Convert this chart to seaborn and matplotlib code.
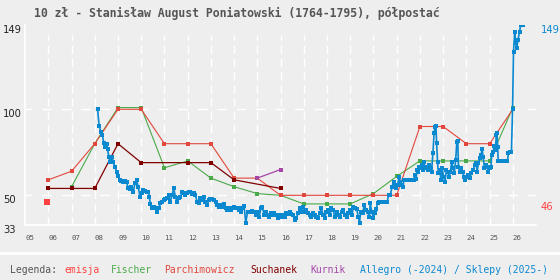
import matplotlib
matplotlib.use("Agg")
import matplotlib.pyplot as plt
import seaborn as sns
from matplotlib.transforms import blended_transform_factory

# dane
title = "10 zł - Stanisław August Poniatowski (1764-1795), półpostać"
year_ticks = list(range(2005, 2027))
year_labels = ["%02d" % (y % 100) for y in year_ticks]

emisja_x = [2005.93]
emisja_y = [46]

fischer_x = list(range(2007, 2027))
fischer_y = [55, 80, 101, 101, 66, 70, 60, 55, 51, 50, 45, 45, 45, 51, 61, 70, 70, 70, 70, 101]

parch_x = list(range(2006, 2027))
parch_y = [59, 64, 80, 100, 100, 80, 80, 80, 60, 60, 50, 50, 50, 50, 50, 50, 90, 90, 80, 80, 100]

such_x = [2006, 2007, 2008, 2009, 2010, 2012, 2013, 2014, 2016]
such_y = [54, 54, 54, 80, 69, 69, 69, 59, 54]

kurnik_x = [2015, 2016]
kurnik_y = [60, 65]

allegro_x = [
    2008.12, 2008.19, 2008.26, 2008.33, 2008.39, 2008.44, 2008.51, 2008.55, 2008.61, 2008.65,
    2008.69, 2008.75, 2008.79, 2008.87, 2008.94, 2009.01, 2009.08, 2009.15, 2009.23, 2009.30,
    2009.37, 2009.44, 2009.51, 2009.58, 2009.66, 2009.73, 2009.80, 2009.87, 2009.95, 2010.02,
    2010.09, 2010.16, 2010.23, 2010.30, 2010.35, 2010.39, 2010.46, 2010.53, 2010.61, 2010.68,
    2010.75, 2010.82, 2010.90, 2010.96, 2011.04, 2011.11, 2011.18, 2011.25, 2011.33, 2011.40,
    2011.47, 2011.54, 2011.61, 2011.69, 2011.76, 2011.83, 2011.90, 2011.97, 2012.04, 2012.12,
    2012.19, 2012.26, 2012.33, 2012.41, 2012.48, 2012.55, 2012.62, 2012.69, 2012.76, 2012.84,
    2012.91, 2012.98, 2013.05, 2013.12, 2013.21, 2013.28, 2013.36, 2013.42, 2013.50, 2013.57,
    2013.64, 2013.71, 2013.79, 2013.86, 2013.93, 2014.00, 2014.07, 2014.15, 2014.22, 2014.29,
    2014.36, 2014.43, 2014.50, 2014.58, 2014.65, 2014.72, 2014.79, 2014.87, 2014.94, 2015.01,
    2015.08, 2015.15, 2015.22, 2015.29, 2015.37, 2015.44, 2015.51, 2015.58, 2015.65, 2015.72,
    2015.80, 2015.88, 2015.96, 2016.03, 2016.10, 2016.17, 2016.25, 2016.32, 2016.39, 2016.46,
    2016.53, 2016.61, 2016.68, 2016.75, 2016.82, 2016.89, 2016.96, 2017.04, 2017.11, 2017.18,
    2017.25, 2017.33, 2017.40, 2017.47, 2017.54, 2017.61, 2017.68, 2017.76, 2017.83, 2017.90,
    2017.97, 2018.04, 2018.12, 2018.19, 2018.27, 2018.33, 2018.41, 2018.49, 2018.56, 2018.63,
    2018.71, 2018.78, 2018.85, 2018.92, 2018.99, 2019.07, 2019.14, 2019.21, 2019.28, 2019.35,
    2019.40, 2019.45, 2019.54, 2019.60, 2019.69, 2019.75, 2019.82, 2019.86, 2019.93, 2020.00,
    2020.05, 2020.12, 2020.18, 2020.23, 2020.30, 2020.37, 2020.44, 2020.51, 2020.58, 2020.66,
    2020.73, 2020.80, 2020.87, 2020.94, 2020.98, 2021.04, 2021.10, 2021.16, 2021.21, 2021.27,
    2021.31, 2021.40, 2021.50, 2021.60, 2021.70, 2021.74, 2021.78, 2021.83, 2021.88, 2021.92,
    2021.98, 2022.03, 2022.07, 2022.13, 2022.17, 2022.21, 2022.27, 2022.33, 2022.39, 2022.46,
    2022.50, 2022.56, 2022.61, 2022.65, 2022.69, 2022.72, 2022.76, 2022.79, 2022.85, 2022.91,
    2022.96, 2023.02, 2023.08, 2023.14, 2023.20, 2023.25, 2023.31, 2023.37, 2023.43, 2023.48,
    2023.54, 2023.59, 2023.63, 2023.66, 2023.72, 2023.78, 2023.84, 2023.90, 2023.96, 2024.00,
    2024.07, 2024.14, 2024.22, 2024.29, 2024.36, 2024.43, 2024.46, 2024.52, 2024.58, 2024.63,
    2024.68, 2024.72, 2024.78, 2024.84, 2024.89, 2024.95, 2025.01, 2025.06, 2025.09, 2025.15,
    2025.20, 2025.25, 2025.29, 2025.32, 2025.35, 2025.37, 2025.46, 2025.55, 2025.65, 2025.77,
    2025.81, 2025.88, 2025.94, 2025.99, 2026.03, 2026.08, 2026.12, 2026.17, 2026.22, 2026.29,
    2026.34, 2026.46,
]
allegro_y = [
    100, 90.3, 87, 85, 80.2, 78.3, 80, 76.7, 72.5, 69.5,
    71, 72, 69.5, 66.6, 63.7, 61.2, 58.9, 58.5, 57.9, 58.3,
    57.9, 54, 53.5, 54.7, 52.1, 57, 58.9, 54.7, 49.2, 51.2,
    53.1, 52.7, 52.1, 52.1, 49.2, 45, 42.8, 43.4, 42.4, 40.5,
    42.4, 45.3, 46.3, 47.3, 47.7, 48.3, 50.2, 46.3, 50.2, 54.1,
    49.2, 46.3, 48.3, 49.2, 51.7, 51.2, 50.2, 51.2, 52.1, 51.7,
    50.6, 51.2, 50.2, 46.3, 45.3, 48.3, 47.3, 49.2, 46.3, 44.4,
    47.3, 47.7, 47.7, 47.3, 46.3, 44.4, 43.4, 44.4, 43.4, 44.8,
    42.4, 41.4, 42.4, 41.4, 42.8, 43.4, 42.8, 42.4, 41.4, 40.5,
    42.4, 44, 34, 40.5, 40.5, 40.5, 40.9, 40.5, 38.5, 40.5,
    37.6, 42.4, 43.4, 38.5, 40.5, 38.5, 37.6, 39.5, 38.5, 39.5,
    38.5, 37, 38.5, 37.6, 38.5, 37.6, 39.5, 39, 40.5, 39,
    38.5, 35.6, 36.6, 39.5, 42.4, 40.5, 43.4, 40.5, 41.4, 39.5,
    38.5, 37.6, 39.5, 38.5, 37.6, 36.6, 39.5, 42.4, 38.5, 36.6,
    40.5, 41.4, 38.5, 42.8, 41.4, 37.6, 40.5, 38.5, 37.6, 40.5,
    41.4, 38.5, 37.6, 39.5, 41.4, 38.5, 43.4, 42.4, 41.9, 37.6,
    34, 40.5, 39.5, 44.4, 41.4, 40.5, 37.6, 45.3, 40.5, 36.6,
    39.5, 41.9, 45.7, 45.9, 45.9, 45.9, 45.9, 45.9, 45.9, 50.2,
    50.2, 55, 57.9, 56, 54.1, 56, 60.8, 57.9, 56, 54.7,
    58.9, 58.9, 58.9, 58.9, 58.9, 58.9, 61.8, 59.3, 64.7, 63.7,
    66.6, 65.7, 67.6, 64.7, 69.5, 65.7, 66.6, 64.7, 67.6, 65.7,
    63.7, 74.4, 86, 89.9, 90.3, 80.2, 69.5, 62.8, 64.7, 58.9,
    65.7, 60.8, 57.9, 64.7, 63.7, 60.8, 63.7, 69.5, 65.7, 62.8,
    70.5, 81.2, 81.8, 66.6, 63.7, 65.7, 63.7, 60.8, 58.9, 60.8,
    61.8, 59.9, 62.8, 64.7, 67.6, 68.6, 63.7, 68.6, 71.5, 73.4,
    76.7, 72.4, 65.7, 67.6, 66.6, 63.7, 65.7, 66.6, 73.4, 75.3,
    78.7, 76.3, 85.1, 86, 78.3, 70, 70, 70, 70, 70,
    74.4, 75.3, 75.3, 100, 133.5, 145.1, 138.4, 135.5, 140.3, 145.1,
    149, 149,
]

legend_items = ["Legenda:", "emisja", "Fischer", "Parchimowicz", "Suchanek", "Kurnik",
                "Allegro (-2024) / Sklepy (2025-)"]

# kolory
BG = "#eeeeee"
C_EMISJA = "#ff4040"
C_FISCHER = "#4aaa4a"
C_PARCH = "#e2473d"
C_SUCH = "#800000"
C_KURNIK = "#a646a6"
C_ALLEGRO = "#0a88d0"
C_TEXT = "#555555"

sns.set_style("white", {"axes.facecolor": BG, "figure.facecolor": BG})
plt.rcParams["font.family"] = ["DejaVu Sans"]
plt.rcParams["lines.scale_dashes"] = False

fig = plt.figure(figsize=(5.6, 2.8), dpi=100)
ax = fig.add_axes([0.0448, 0.198, 0.9124, 0.7127])
ax.set_facecolor(BG)
ax.set_xlim(2005, 2027)
ax.set_ylim(33, 149)

# siatka
for y in year_ticks[1:]:
    ax.axvline(y, ymax=0.95, color="white", lw=1.0, ls=(0, (6, 3.5)), zorder=0)
for v in [100, 50]:
    ax.axhline(v, color="white", lw=1.0, ls=(2, (7, 7)), zorder=0)

for s in ["top", "right"]:
    ax.spines[s].set_visible(False)
for s in ["left", "bottom"]:
    ax.spines[s].set_color("white")
    ax.spines[s].set_linewidth(1.2)

ax.set_xticks(year_ticks)
ax.set_xticklabels([])
ax.tick_params(axis="x", colors="white", length=2.5, width=1)
ax.set_yticks([])
ax.set_xlabel("")
ax.set_ylabel("")

# serie
sns.lineplot(x=fischer_x, y=fischer_y, ax=ax, color=C_FISCHER, lw=0.8, marker="s",
             markersize=2.8, markeredgewidth=0, estimator=None, sort=False, zorder=3)
sns.lineplot(x=parch_x, y=parch_y, ax=ax, color=C_PARCH, lw=0.8, marker="s",
             markersize=2.8, markeredgewidth=0, estimator=None, sort=False, zorder=3)
sns.lineplot(x=such_x, y=such_y, ax=ax, color=C_SUCH, lw=0.9, marker="s",
             markersize=2.8, markeredgewidth=0, estimator=None, sort=False, zorder=3)
sns.lineplot(x=kurnik_x, y=kurnik_y, ax=ax, color=C_KURNIK, lw=0.9, marker="s",
             markersize=2.8, markeredgewidth=0, estimator=None, sort=False, zorder=3)
sns.lineplot(x=allegro_x, y=allegro_y, ax=ax, color=C_ALLEGRO, lw=1.2, marker="s",
             markersize=2.7, markeredgewidth=0, estimator=None, sort=False, zorder=4)
sns.scatterplot(x=emisja_x, y=emisja_y, ax=ax, color=C_EMISJA, marker="s", s=16,
                linewidth=0, zorder=5)

# etykiety osi
for y, lab in zip(year_ticks, year_labels):
    ax.text(y + 0.2, 26.8, lab, ha="center", va="top", fontsize=5.3,
            family="DejaVu Sans Mono", color=C_TEXT)

tr_l = blended_transform_factory(fig.transFigure, ax.transData)
for v in [149, 100, 50, 33]:
    ax.text(3 / 560, v, str(v), transform=tr_l, ha="left", va="top", fontsize=7.2,
            color="#222222")
ax.text(541 / 560, 149, "149", transform=tr_l, ha="left", va="top", fontsize=7.2,
        color=C_ALLEGRO)
ax.text(541 / 560, 46, "46", transform=tr_l, ha="left", va="top", fontsize=7.2,
        color=C_EMISJA)

# tytul
fig.text(34 / 560, 1 - 13 / 280, title, ha="left", va="center", fontsize=8.3,
         family="DejaVu Sans Mono", weight="bold", color=C_TEXT)

# pasek legendy
fig.add_artist(plt.Line2D([0, 1], [1 - 253 / 280] * 2, transform=fig.transFigure,
                          color="white", lw=2.2))
legend_x = [10, 64, 111, 164, 250, 310, 360]
legend_c = [C_TEXT, C_EMISJA, C_FISCHER, C_PARCH, C_SUCH, C_KURNIK, C_ALLEGRO]
for txt, x, c in zip(legend_items, legend_x, legend_c):
    fig.text(x / 560, 1 - 270 / 280, txt, ha="left", va="center", fontsize=7.0,
             family="DejaVu Sans Mono", color=c)

fig.savefig("out.png", dpi=100, facecolor=BG)
